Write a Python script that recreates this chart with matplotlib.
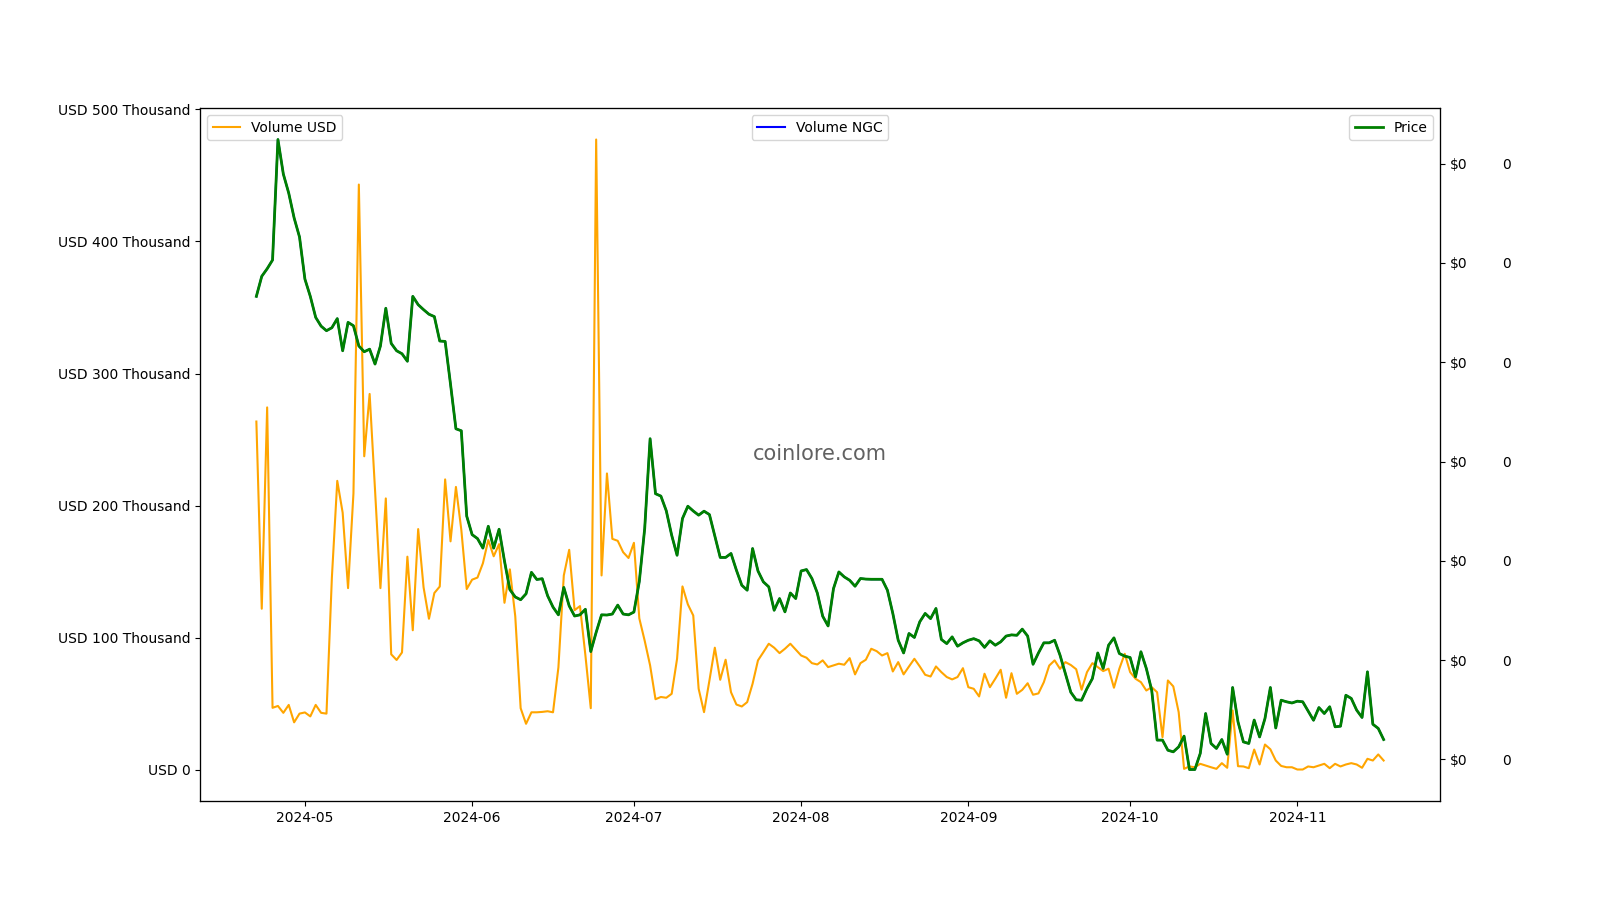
import matplotlib
matplotlib.use("Agg")
import matplotlib.pyplot as plt
import matplotlib.ticker as mticker
import pandas as pd

start_date = "2024-04-22"
end_date = "2024-11-17"

volume_usd_k = [
    263.7, 122.0, 274.4, 47.0, 48.4, 43.2, 49.2, 36.0, 42.6, 43.5,
    40.5, 49.2, 43.2, 42.6, 145.5, 218.8, 194.7, 137.6, 209.3, 443.1,
    237.4, 284.6, 212.0, 137.6, 205.5, 87.5, 83.2, 88.9, 161.4, 105.7,
    182.3, 138.2, 114.4, 133.9, 138.8, 219.9, 173.0, 214.2, 181.7, 136.9,
    144.0, 145.6, 156.4, 174.0, 161.7, 170.9, 126.5, 151.8, 116.3, 46.7,
    34.9, 43.6, 43.6, 43.9, 44.4, 43.6, 77.6, 147.2, 166.6, 120.9,
    124.0, 86.9, 46.7, 477.2, 147.2, 224.4, 174.9, 173.4, 164.8, 160.4,
    171.9, 114.7, 97.7, 79.1, 53.5, 55.2, 54.6, 57.6, 84.1, 138.9,
    125.3, 116.9, 61.4, 43.7, 67.7, 92.5, 68.2, 83.4, 58.8, 49.5,
    48.0, 51.3, 65.2, 82.9, 89.1, 95.5, 92.5, 88.4, 91.7, 95.5,
    91.0, 86.6, 84.9, 80.8, 79.8, 82.9, 77.8, 79.1, 80.4, 79.6,
    84.6, 72.3, 80.8, 83.4, 91.7, 89.9, 86.6, 88.4, 74.5, 81.6,
    72.3, 78.3, 84.1, 78.3, 72.0, 70.7, 78.3, 74.0, 70.3, 68.5,
    70.3, 77.0, 62.6, 61.4, 55.6, 72.8, 62.6, 69.0, 75.8, 54.6,
    73.2, 57.6, 60.6, 65.6, 56.9, 57.9, 66.4, 79.0, 82.9, 76.5,
    81.6, 79.4, 76.2, 60.7, 74.0, 80.8, 77.8, 74.8, 76.6, 62.2,
    76.6, 87.9, 74.0, 69.0, 66.4, 60.1, 62.6, 58.8, 24.8, 67.7,
    63.2, 43.7, 0.8, 2.6, 2.0, 4.6, 3.3, 2.0, 0.8, 5.1,
    1.6, 45.0, 2.8, 2.6, 1.3, 15.4, 4.1, 19.2, 15.6, 7.1,
    3.0, 2.0, 2.0, 0.3, 0.3, 2.6, 2.0, 3.3, 4.6, 1.3,
    4.6, 2.6, 4.1, 5.1, 4.1, 1.6, 8.4, 7.1, 11.7, 7.1,
]
volume_usd = [v * 1000 for v in volume_usd_k]

price = [
    0.02832, 0.02933, 0.02971, 0.03015, 0.03622, 0.03448, 0.03352, 0.03227, 0.03131, 0.02919,
    0.02832, 0.02726, 0.02682, 0.02659, 0.02674, 0.02720, 0.02558, 0.02701, 0.02684, 0.02582,
    0.02553, 0.02566, 0.02491, 0.02582, 0.02772, 0.02595, 0.02558, 0.02543, 0.02505, 0.02832,
    0.02790, 0.02765, 0.02742, 0.02730, 0.02607, 0.02605, 0.02389, 0.02165, 0.02155, 0.01725,
    0.01632, 0.01612, 0.01564, 0.01674, 0.01564, 0.01659, 0.01499, 0.01355, 0.01318, 0.01304,
    0.01334, 0.01442, 0.01406, 0.01410, 0.01324, 0.01267, 0.01228, 0.01366, 0.01273, 0.01222,
    0.01228, 0.01256, 0.01043, 0.01140, 0.01228, 0.01227, 0.01232, 0.01277, 0.01232, 0.01228,
    0.01242, 0.01396, 0.01663, 0.02115, 0.01838, 0.01826, 0.01752, 0.01629, 0.01528, 0.01713,
    0.01775, 0.01751, 0.01730, 0.01750, 0.01733, 0.01624, 0.01517, 0.01517, 0.01537, 0.01453,
    0.01377, 0.01352, 0.01562, 0.01449, 0.01394, 0.01369, 0.01251, 0.01310, 0.01243, 0.01338,
    0.01310, 0.01449, 0.01456, 0.01411, 0.01338, 0.01221, 0.01172, 0.01360, 0.01444, 0.01419,
    0.01402, 0.01372, 0.01411, 0.01408, 0.01407, 0.01407, 0.01407, 0.01352, 0.01235, 0.01100,
    0.01036, 0.01134, 0.01114, 0.01193, 0.01235, 0.01209, 0.01260, 0.01104, 0.01083, 0.01117,
    0.01070, 0.01087, 0.01100, 0.01108, 0.01097, 0.01064, 0.01097, 0.01075, 0.01092, 0.01121,
    0.01127, 0.01125, 0.01156, 0.01121, 0.00979, 0.01036, 0.01087, 0.01087, 0.01100, 0.01025,
    0.00932, 0.00838, 0.00800, 0.00798, 0.00857, 0.00907, 0.01036, 0.00958, 0.01075, 0.01112,
    0.01033, 0.01020, 0.01013, 0.00916, 0.01042, 0.00958, 0.00848, 0.00597, 0.00597, 0.00546,
    0.00538, 0.00563, 0.00617, 0.00449, 0.00449, 0.00530, 0.00731, 0.00580, 0.00555, 0.00600,
    0.00526, 0.00862, 0.00689, 0.00588, 0.00580, 0.00698, 0.00613, 0.00706, 0.00862, 0.00658,
    0.00798, 0.00790, 0.00784, 0.00793, 0.00790, 0.00744, 0.00697, 0.00761, 0.00731, 0.00765,
    0.00664, 0.00667, 0.00823, 0.00807, 0.00748, 0.00711, 0.00941, 0.00677, 0.00656, 0.00600,
]
# The NGC volume line is drawn entirely underneath the price line in the reference
volume_ngc = list(price)

dates = pd.date_range(start_date, end_date, freq="D")

fig, ax1 = plt.subplots(figsize=(16, 9), dpi=100)

ax1.plot(dates, volume_usd, color="orange", linewidth=1.5, label="Volume USD")
ax1.yaxis.set_major_formatter(
    mticker.FuncFormatter(lambda x, p: "USD 0" if x == 0 else f"USD {x/1000:,.0f} Thousand")
)
ax1.legend(loc="upper left")

ax3 = ax1.twinx()
ax3.plot(dates, volume_ngc, color="blue", linewidth=1.5, label="Volume NGC")
ax3.yaxis.set_major_formatter(mticker.FuncFormatter(lambda x, p: f"{x:,.0f}"))
ax3.tick_params(axis="y", length=0, pad=44.5)
ax3.legend(loc="upper center")

ax2 = ax1.twinx()
ax2.plot(dates, price, color="green", linewidth=2, label="Price")
ax2.yaxis.set_major_formatter(mticker.FuncFormatter(lambda x, p: f"${x:,.0f}"))
ax2.legend(loc="upper right")

ax1.text(0.5, 0.5, "coinlore.com", transform=ax1.transAxes, ha="center", va="center",
         fontsize=15, color="black", alpha=0.62, zorder=10)

fig.savefig("out.png", dpi=100)
